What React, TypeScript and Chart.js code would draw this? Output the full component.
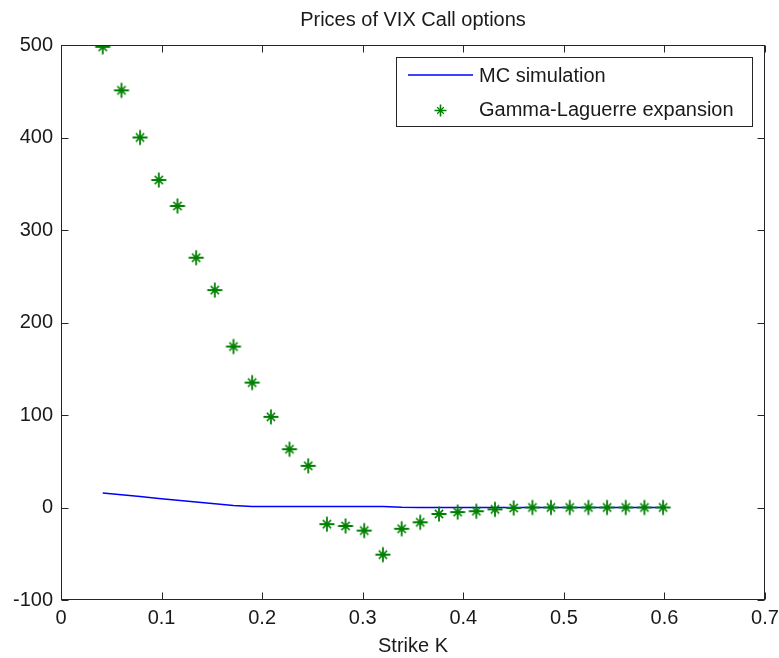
import React, { useEffect, useRef } from 'react';
import { Chart, registerables } from 'chart.js';

Chart.register(...registerables);

const FONT = '"Liberation Sans", Arial, Helvetica, sans-serif';

const chartTitle = 'Prices of VIX Call options';
const xAxisTitle = 'Strike K';
const seriesLabels = ['MC simulation', 'Gamma-Laguerre expansion'];

const strikes = [
  0.0415, 0.0601, 0.0786, 0.0972, 0.1158, 0.1344, 0.1529, 0.1715, 0.1901, 0.2087,
  0.2272, 0.2458, 0.2644, 0.2829, 0.3015, 0.3201, 0.3387, 0.3572, 0.3758, 0.3944,
  0.4130, 0.4315, 0.4501, 0.4687, 0.4872, 0.5058, 0.5244, 0.5430, 0.5615, 0.5801, 0.5987,
];

const mcPrices = [
  15.6, 13.7, 11.8, 9.8, 7.9, 6.0, 4.0, 2.1, 1.1, 1.0,
  1.0, 1.0, 1.0, 1.0, 1.0, 1.0, 0.2, 0, 0, 0,
  0, 0, 0, 0, 0, 0, 0, 0, 0, 0, 0,
];

const glPrices = [
  498, 451, 400, 354, 326, 270, 235, 174, 135, 98,
  63, 45, -18, -20, -25, -51, -23, -16, -7, -5,
  -4, -2, -0.5, 0, 0, 0, 0, 0, 0, 0, 0,
];

const xMin = 0, xMax = 0.7, xStep = 0.1;
const yMin = -100, yMax = 500, yStep = 100;

const AXIS = '#262626';
const TEXT = '#1a1a1a';
const GREEN = '#008000';
const BLUE = '#0000ff';

function drawStar(ctx: CanvasRenderingContext2D, x: number, y: number, r: number, lw: number) {
  const d = r * 0.55;
  ctx.lineWidth = lw;
  ctx.beginPath();
  ctx.moveTo(x - r, y); ctx.lineTo(x + r, y);
  ctx.moveTo(x, y - r); ctx.lineTo(x, y + r);
  ctx.stroke();
  ctx.lineWidth = lw * 0.8;
  ctx.beginPath();
  ctx.moveTo(x - d, y - d); ctx.lineTo(x + d, y + d);
  ctx.moveTo(x - d, y + d); ctx.lineTo(x + d, y - d);
  ctx.stroke();
}

function makeStarImage(r: number, color: string) {
  const size = Math.ceil(r * 2 + 3);
  const c = document.createElement('canvas');
  c.width = size; c.height = size;
  const g = c.getContext('2d')!;
  g.strokeStyle = color;
  drawStar(g, size / 2, size / 2, r, 1.8);
  return c;
}

const framePlugin = {
  id: 'matlabFrame',
  afterDraw(chart: any) {
    const { ctx, chartArea: a, scales } = chart;
    const L = Math.round(a.left) + 0.5;
    const R = Math.round(a.right) - 0.5;
    const T = Math.round(a.top) + 0.5;
    const B = Math.round(a.bottom) - 0.5;
    const tl = 7;
    ctx.save();
    ctx.strokeStyle = AXIS;
    ctx.lineWidth = 1;
    ctx.strokeRect(L, T, R - L, B - T);
    ctx.beginPath();
    scales.x.ticks.forEach((t: any) => {
      const px = Math.round(scales.x.getPixelForValue(t.value)) + 0.5;
      ctx.moveTo(px, B); ctx.lineTo(px, B - tl);
      ctx.moveTo(px, T); ctx.lineTo(px, T + tl);
    });
    scales.y.ticks.forEach((t: any) => {
      const py = Math.round(scales.y.getPixelForValue(t.value)) + 0.5;
      ctx.moveTo(L, py); ctx.lineTo(L + tl, py);
      ctx.moveTo(R, py); ctx.lineTo(R - tl, py);
    });
    ctx.stroke();

    // legend box (inside plot, top right)
    const lx = 396.5, ly = 57.5, lw = 356, lh = 69;
    ctx.fillStyle = '#ffffff';
    ctx.fillRect(lx, ly, lw, lh);
    ctx.strokeStyle = AXIS;
    ctx.lineWidth = 1;
    ctx.strokeRect(lx, ly, lw, lh);
    const ds = chart.data.datasets;
    ctx.font = `20px ${FONT}`;
    ctx.textAlign = 'left';
    ctx.textBaseline = 'middle';
    // row 1: line sample
    ctx.strokeStyle = ds[0].borderColor;
    ctx.lineWidth = 1.5;
    ctx.beginPath();
    ctx.moveTo(408, 75); ctx.lineTo(473, 75);
    ctx.stroke();
    ctx.fillStyle = TEXT;
    ctx.fillText(ds[0].label, 479, 76);
    // row 2: star marker
    ctx.strokeStyle = ds[1].borderColor;
    drawStar(ctx, 440.5, 110.5, 6, 1.6);
    ctx.fillStyle = TEXT;
    ctx.fillText(ds[1].label, 479, 110);
    ctx.restore();
  },
};

export default function App() {
  const ref = useRef<HTMLCanvasElement | null>(null);

  useEffect(() => {
    if (!ref.current) return;
    const starImg = makeStarImage(7.5, GREEN);
    const chart = new Chart(ref.current, {
      type: 'scatter',
      data: {
        datasets: [
          {
            label: seriesLabels[0],
            data: strikes.map((k, i) => ({ x: k, y: mcPrices[i] })),
            showLine: true,
            borderColor: BLUE,
            backgroundColor: BLUE,
            borderWidth: 1.5,
            pointRadius: 0,
            order: 1,
          },
          {
            label: seriesLabels[1],
            data: strikes.map((k, i) => ({ x: k, y: glPrices[i] })),
            showLine: false,
            borderColor: GREEN,
            backgroundColor: GREEN,
            pointStyle: starImg,
            pointRadius: 8,
            borderWidth: 1.6,
            order: 0,
          },
        ],
      },
      options: {
        responsive: false,
        animation: false,
        devicePixelRatio: 1,
        layout: { padding: { left: 0, right: 14, top: 0, bottom: 0 } },
        plugins: {
          legend: { display: false },
          tooltip: { enabled: false },
          title: {
            display: true,
            text: chartTitle,
            fullSize: false,
            color: TEXT,
            font: { family: FONT, size: 20, weight: 'normal' },
            padding: { top: 8, bottom: 13 },
          },
        },
        scales: {
          x: {
            type: 'linear',
            min: xMin,
            max: xMax,
            afterFit: (s: any) => { s.height = 58; s.paddingLeft = 0; s.paddingRight = 0; },
            ticks: {
              stepSize: xStep,
              color: TEXT,
              padding: 6,
              maxRotation: 0,
              font: { family: FONT, size: 20 },
              callback: (v: any) => String(Math.round(Number(v) * 10) / 10),
            },
            grid: { display: false, drawTicks: false },
            border: { display: false },
            title: {
              display: true,
              text: xAxisTitle,
              color: TEXT,
              font: { family: FONT, size: 20 },
              padding: { top: 0, bottom: 0 },
            },
          },
          y: {
            type: 'linear',
            min: yMin,
            max: yMax,
            afterFit: (s: any) => { s.width = 61; s.paddingTop = 0; s.paddingBottom = 0; },
            ticks: {
              stepSize: yStep,
              color: TEXT,
              padding: 8,
              font: { family: FONT, size: 20 },
            },
            grid: { display: false, drawTicks: false },
            border: { display: false },
          },
        },
      },
      plugins: [framePlugin],
    } as any);
    return () => chart.destroy();
  }, []);

  return (
    <div style={{ position: 'absolute', left: 0, top: 0, width: 779, height: 658, background: '#fff' }}>
      <canvas ref={ref} width={779} height={658} style={{ display: 'block' }} />
    </div>
  );
}
